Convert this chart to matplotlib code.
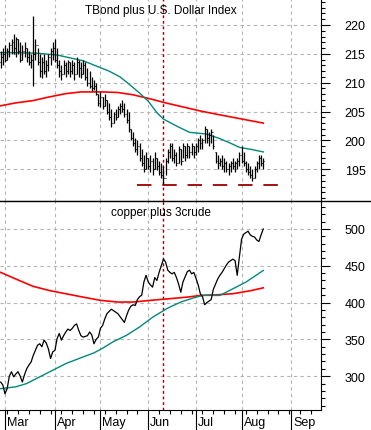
import numpy as np
import pandas as pd
import matplotlib
matplotlib.use('Agg')
from matplotlib.pyplot import figure, rcParams
from matplotlib.lines import Line2D
from matplotlib.transforms import ScaledTranslation
from matplotlib.ticker import MultipleLocator, FixedLocator

rcParams['font.family'] = ['Liberation Sans', 'DejaVu Sans']

#%% data: trading-day index 0 = Mar 1 (first bar sits two days earlier)
start_date = '2005-02-25'
end_date = '2005-09-30'

# TBond plus U.S. Dollar Index, daily OHLC
tb_high = [215.5, 216, 216.5, 216, 217, 217.5, 218.5, 218, 217.5, 217, 216.5, 217, 216, 215.5, 215,
           221.6, 217.5, 216, 215, 214.5, 215, 214, 215, 216, 217, 217.5, 216, 214, 213, 214, 213.5,
           214, 213.5, 214, 213.5, 214.5, 214, 213.5, 214, 213.5, 212.5, 212, 211, 210.5, 210, 208,
           208.3, 207.5, 208, 207, 206.5, 205.5, 205, 205.5, 206, 206.5, 207, 206.5, 205.5, 205, 202,
           201.5, 200.5, 200, 199.5, 198.5, 197.5, 198, 197, 197.5, 197, 198, 197, 196.5, 196, 195.5,
           197, 198.5, 199.5, 199.5, 198.5, 198, 199, 198.5, 199.5, 199, 199.5, 199, 199.5, 199, 199.5,
           200.5, 201, 200.5, 202.5, 202, 201.5, 202, 201, 198, 197.5, 197, 197.5, 197, 196.5, 196,
           196.5, 197, 196.5, 197, 198, 199, 198, 196.5, 196, 195.5, 195, 195.5, 196.5, 197.5, 197.5, 197]
tb_low = [212.5, 213, 213.5, 214, 214.5, 215, 215, 214.5, 215, 213.5, 214, 214.5, 213.5, 213, 212.5,
          209.4, 214, 213, 211, 210.8, 211.5, 211, 212, 213, 214, 213.5, 212.5, 211, 210.5, 211.5, 211,
          211.5, 211, 211.5, 210.5, 211.5, 211, 210.8, 211.5, 210.5, 209.5, 209, 208.5, 208.8, 207.8, 206,
          205.8, 205.5, 206, 204.5, 203.5, 202.3, 203, 203.5, 204, 204.5, 205, 204, 203, 201.5, 200,
          199, 198, 197.5, 196.5, 195.5, 194.5, 195, 195, 194.5, 194, 195, 194.8, 194, 193.5, 192.5,
          194, 196, 197, 196.5, 196, 195.5, 196, 195.8, 197, 196.5, 197, 197, 197.5, 197, 197.5,
          198, 198.5, 198.5, 199.5, 199.5, 199, 199.5, 198.5, 196, 195, 195.5, 195, 194.5, 194.5, 194,
          194.5, 195, 194.5, 195, 195.5, 196, 195.5, 194.5, 194, 193.5, 193, 193.5, 194.5, 195, 195.5, 195]
tb_open = [213.5, 214.5, 215, 214, 215.5, 216.5, 217, 216, 217.5, 215.5, 214, 215.5, 216, 214.5, 213.5,
           214, 215, 216.5, 213.5, 212, 213.5, 212, 213, 214.5, 215.5, 216, 214, 213, 212, 211.5, 213,
           212, 213.5, 212, 213, 211.5, 213.5, 212.5, 211.5, 213, 211, 210, 209.5, 209, 209.5, 208,
           206.5, 207.5, 206, 207, 205, 204, 203, 204.5, 204, 205.5, 206, 205.5, 204.5, 203.5, 202,
           200.5, 199.5, 198.5, 199, 197, 196, 195, 197, 195.5, 196.5, 195, 197, 195.5, 194.5, 194,
           193.5, 196.5, 198, 199, 197, 197.5, 196, 198.5, 196.5, 199, 197.5, 199, 198, 199, 198,
           199, 200, 199.5, 200, 202, 200.5, 201, 201.5, 198, 196.5, 196, 196.5, 195.5, 196, 195,
           195.5, 196, 195.5, 196, 196.5, 197.5, 196.5, 196, 195, 194.5, 194, 193.5, 195, 196, 197, 196]
tb_close = [214.5, 215, 214, 215.5, 216.5, 217, 216, 217.5, 215.5, 214, 215.5, 216, 214.5, 213.5, 214,
            215, 216.5, 213.5, 212, 213.5, 212, 213, 214.5, 215.5, 216, 214, 213, 212, 211.5, 213, 212,
            213.5, 212, 213, 211.5, 213.5, 212.5, 211.5, 213, 211, 210, 209.5, 209, 209.5, 208, 206.5,
            207.5, 206, 207, 205, 204, 203, 204.5, 204, 205.5, 206, 205.5, 204.5, 203.5, 202, 200.5,
            199.5, 198.5, 199, 197, 196, 195, 197, 195.5, 196.5, 195, 197, 195.5, 194.5, 194, 193.5,
            196.5, 198, 199, 197, 197.5, 196, 198.5, 196.5, 199, 197.5, 199, 198, 199, 198, 199,
            200, 199.5, 200, 202, 200.5, 201, 201.5, 199, 196.5, 196, 196.5, 195.5, 196, 195, 195.5,
            196, 195.5, 196, 196.5, 197.5, 196.5, 196, 195, 194.5, 194, 193.5, 195, 196, 197, 196, 196.5]

tb_fast_x = [-2, 5, 15, 24, 30, 36, 42, 48, 53, 57, 62, 66, 70, 73, 79, 85, 93, 99, 104, 108, 114, 119]
tb_fast = [215.2, 215.2, 215.1, 214.8, 214.3, 213.8, 212.9, 212.0, 211.0, 209.8, 208.2, 206.8, 204.8,
           203.7, 202.5, 201.4, 201.1, 200.3, 199.5, 198.8, 198.4, 198.0]
tb_slow_x = [-2, 5, 13, 20, 28, 35, 45, 52, 59, 67, 74, 82, 90, 98, 105, 112, 119]
tb_slow = [206.0, 206.5, 206.9, 207.5, 208.1, 208.4, 208.4, 208.3, 207.9, 207.2, 206.5, 205.8, 205.1,
           204.5, 204.0, 203.5, 203.0]
tb_ticks = [195, 200, 205, 210, 215, 220]
support_level = 192.3
support_span = (61, 128.6)

# copper plus 3crude, daily close
cu_close = [292, 288, 276, 283, 300, 306, 299, 303, 306, 300, 292, 302, 310, 315, 319, 328, 335, 342,
            344, 340, 349, 345, 337, 324, 333, 335, 351, 358, 349, 355, 360, 364, 362, 365, 369, 371,
            362, 355, 353, 354, 355, 360, 356, 344, 350, 353, 365, 369, 378, 385, 388, 391, 389, 387,
            385, 381, 377, 373, 382, 390, 395, 397, 396, 404, 408, 410, 428, 437, 428, 424, 421, 434,
            430, 441, 450, 459, 455, 444, 441, 439, 441, 434, 425, 414, 428, 435, 442, 444, 439, 441,
            433, 424, 412, 408, 397, 400, 402, 404, 418, 425, 432, 437, 441, 446, 451, 455, 457, 459,
            457, 437, 462, 486, 493, 495, 497, 492, 490, 489, 485, 483, 492, 500]
cu_fast_x = [-2, 5, 10, 16, 22, 28, 35, 41, 45, 50, 56, 62, 68, 75, 81, 87, 91, 99, 105, 111, 119]
cu_fast = [283, 285.5, 290, 299, 308, 317, 325, 331.6, 338, 347, 355.5, 366.8, 380, 392.5, 400.7,
           406.5, 409.7, 409.7, 418.7, 427.8, 443.6]
cu_slow_x = [-2, 5, 13, 21, 28, 36, 44, 52, 59, 67, 75, 84, 90, 98, 105, 113, 119]
cu_slow = [441, 432, 422, 416, 412, 407.4, 403, 400.7, 400.7, 403, 405, 407.4, 409.7, 410.6, 412,
           416, 420]
cu_ticks = [300, 350, 400, 450, 500]

event_day = 73

#%% helpers
W, H = 371, 431
GRID = dict(color='#b4b4b4', linestyle=(0, (3, 3)), linewidth=0.8)
GREEN = '#00897B'
DKRED = '#9b0000'


def style_axis(ax, ylo, yhi, ticks, minor, xlim, month_x):
    ax.set_xlim(*xlim)
    ax.set_ylim(ylo, yhi)
    for s in ('left', 'top'):
        ax.spines[s].set_visible(False)
    ax.yaxis.tick_right()
    ax.yaxis.set_major_locator(FixedLocator(ticks))
    ax.yaxis.set_minor_locator(MultipleLocator(minor))
    ax.tick_params(axis='y', which='major', length=6.5, width=0.8, pad=10.5, labelsize=9)
    ax.tick_params(axis='y', which='minor', length=3, width=0.8)
    for v in ticks:
        ax.axhline(v, zorder=0, **GRID)
    for m in month_x:
        ax.axvline(m, zorder=0, **GRID)
    ax.axvline(event_day, color=DKRED, linestyle=(0, (2, 2)), linewidth=1.0, zorder=1)


def plot_chart():
    dates = pd.bdate_range(start_date, end_date)
    idx = np.arange(len(dates)) - 2
    newmonth = np.r_[True, dates.month[1:] != dates.month[:-1]]
    month_x = idx[newmonth][1:]
    month_lab = [d.strftime('%b') for d in dates[newmonth][1:]]
    week_x = idx[dates.dayofweek == 2]
    xlim = (-2.3, 145.6)

    fg = figure(figsize=(W / 100, H / 100), dpi=100)
    ax1 = fg.add_axes([0, (H - 202) / H, 321 / W, 202 / H])
    ax2 = fg.add_axes([0, 20 / H, 321 / W, 209 / H])

#%% top panel: OHLC bars
    style_axis(ax1, 189.5, 224.5, tb_ticks, 1, xlim, month_x)
    n = len(tb_high)
    x = idx[:n]
    ax1.vlines(x, tb_low, tb_high, color='k', linewidth=0.9, zorder=3)
    ax1.hlines(tb_open, x - 0.45, x, color='k', linewidth=0.8, zorder=3)
    ax1.hlines(tb_close, x, x + 0.45, color='k', linewidth=0.8, zorder=3)
    ax1.plot(tb_slow_x, tb_slow, color='#ff0000', linewidth=1.2, zorder=2)
    ax1.plot(tb_fast_x, tb_fast, color=GREEN, linewidth=1.0, zorder=2)
    ax1.hlines(support_level, *support_span, color=DKRED, linewidth=1.3,
               linestyle=(0, (8, 6)), zorder=2)
    ax1.set_xticks([])
    ax1.text(0.5, 0.975, 'TBond plus U.S. Dollar Index', transform=ax1.transAxes,
             ha='center', va='top', fontsize=8.5)

#%% bottom panel: line
    style_axis(ax2, 254, 538, cu_ticks, 10, xlim, month_x)
    ax2.plot(idx[:len(cu_close)], cu_close, color='k', linewidth=0.9, zorder=3)
    ax2.plot(cu_slow_x, cu_slow, color='#ff0000', linewidth=1.2, zorder=2)
    ax2.plot(cu_fast_x, cu_fast, color=GREEN, linewidth=1.0, zorder=2)
    ax2.text(0.5, 0.975, 'copper plus 3crude', transform=ax2.transAxes,
             ha='center', va='top', fontsize=8.5)

    ax2.xaxis.set_major_locator(FixedLocator(month_x))
    ax2.xaxis.set_minor_locator(FixedLocator(week_x))
    ax2.set_xticklabels(month_lab)
    ax2.tick_params(axis='x', which='major', length=14.5, width=0.8, pad=-10.5, labelsize=9)
    ax2.tick_params(axis='x', which='minor', length=3, width=0.8)
    off = ScaledTranslation(2 / 100, 0, fg.dpi_scale_trans)
    for lab in ax2.get_xticklabels():
        lab.set_horizontalalignment('left')
        lab.set_transform(lab.get_transform() + off)

    # separator between the panels runs across the full width
    fg.add_artist(Line2D([0, 1], [(H - 202) / H] * 2, color='k', linewidth=1.0,
                         transform=fg.transFigure))
    fg.savefig('out.png', dpi=100)


plot_chart()
